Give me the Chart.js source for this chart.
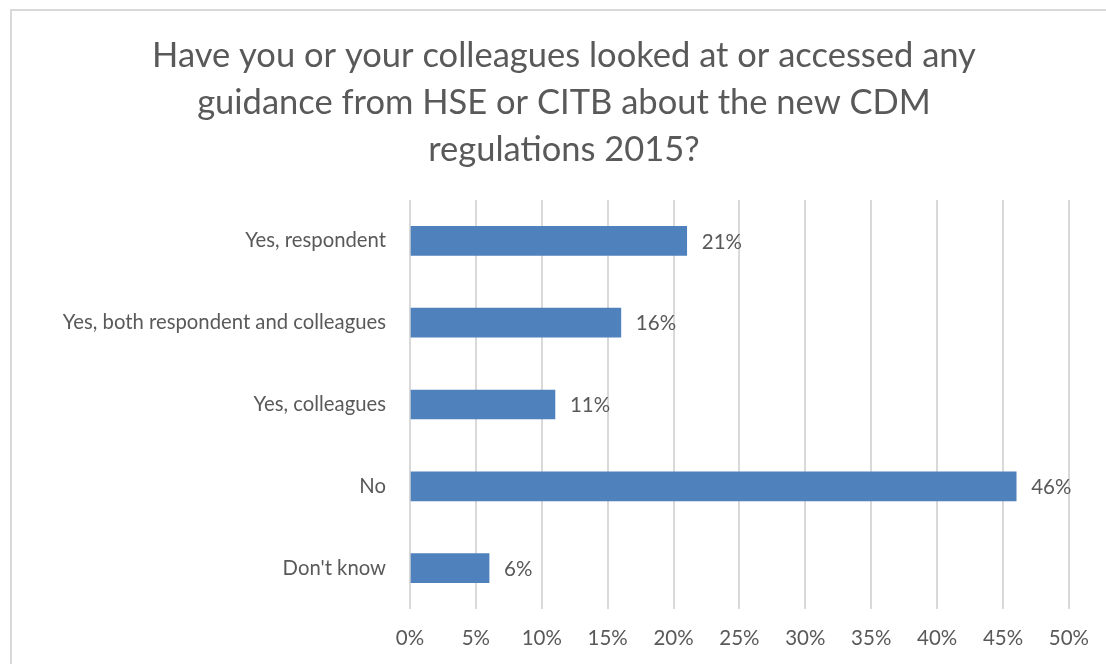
<!DOCTYPE html>
<html>
<head>
<meta charset="utf-8">
<script src="https://cdn.jsdelivr.net/npm/chart.js@4.4.1/dist/chart.umd.min.js"></script>
<style>
  html, body { margin: 0; padding: 0; background: #fff; overflow: hidden; }
  #wrap { position: relative; width: 1106px; height: 664px; overflow: hidden; }
  #frame { position: absolute; left: 10px; top: 9px; width: 1120px; height: 700px; border: 2px solid #d9d9d9; box-sizing: border-box; }
  canvas { position: absolute; left: 0; top: 0; }
</style>
</head>
<body>
<div id="wrap">
  <div id="frame"></div>
  <canvas id="c" width="1106" height="664"></canvas>
</div>
<script>
const titleLines = [
  "Have you or your colleagues looked at or accessed any",
  "guidance from HSE or CITB about the new CDM",
  "regulations 2015?"
];
const categories = [
  "Yes, respondent",
  "Yes, both respondent and colleagues",
  "Yes, colleagues",
  "No",
  "Don't know"
];
const values = [21, 16, 11, 46, 6];
const tickMin = 0;
const tickMax = 50;
const tickStep = 5;

const FONT = "Lato, 'Open Sans', sans-serif";
const TXT = "#595959";

const titlePlugin = {
  id: 'titleLines',
  afterDraw(chart) {
    const ctx = chart.ctx;
    ctx.save();
    ctx.fillStyle = TXT;
    ctx.font = "34.5px " + FONT;
    ctx.textAlign = 'center';
    ctx.textBaseline = 'alphabetic';
    const baselines = [67, 114, 161];
    titleLines.forEach((t, i) => ctx.fillText(t, 564, baselines[i]));
    ctx.restore();
  }
};

const labelPlugin = {
  id: 'barLabels',
  afterDatasetsDraw(chart) {
    const ctx = chart.ctx;
    const meta = chart.getDatasetMeta(0);
    ctx.save();
    ctx.fillStyle = TXT;
    ctx.font = "20.5px " + FONT;
    ctx.textAlign = 'left';
    ctx.textBaseline = 'middle';
    meta.data.forEach((bar, i) => {
      ctx.fillText(values[i] + '%', bar.x + 15, bar.y + 1);
    });
    ctx.restore();
  }
};

new Chart(document.getElementById('c'), {
  type: 'bar',
  data: {
    labels: categories,
    datasets: [{
      data: values,
      backgroundColor: '#4f81bd',
      borderWidth: 0,
      barThickness: 29
    }]
  },
  options: {
    indexAxis: 'y',
    responsive: false,
    animation: false,
    layout: { padding: { top: 200, right: 37, left: 0, bottom: 0 } },
    plugins: {
      legend: { display: false },
      title: { display: false },
      tooltip: { enabled: false }
    },
    scales: {
      x: {
        min: tickMin,
        max: tickMax,
        ticks: {
          stepSize: tickStep,
          color: TXT,
          font: { family: FONT, size: 20.5 },
          padding: 17,
          callback: v => v + '%'
        },
        grid: { color: '#d9d9d9', lineWidth: 2, drawTicks: false },
        border: { display: false },
        afterFit(s) { s.height = 55; }
      },
      y: {
        ticks: {
          color: TXT,
          font: { family: FONT, size: 20.3 },
          padding: 24
        },
        grid: { display: false, drawTicks: false },
        border: { display: false },
        afterFit(s) { s.width = 410; }
      }
    }
  },
  plugins: [titlePlugin, labelPlugin]
});
</script>
</body>
</html>
